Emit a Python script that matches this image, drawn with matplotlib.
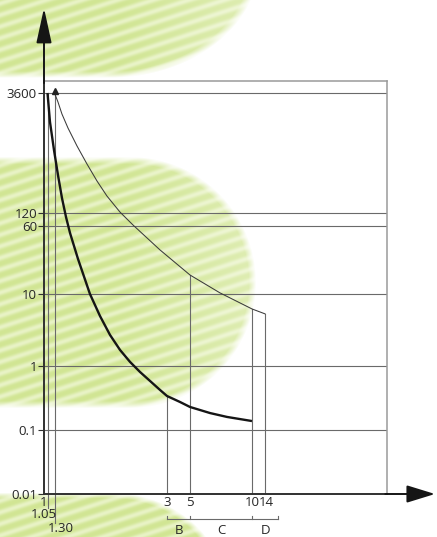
import numpy as np
import matplotlib
matplotlib.use("Agg")
import matplotlib.pyplot as plt
from matplotlib import transforms
from matplotlib.ticker import FixedLocator, FixedFormatter, NullLocator

plt.rcParams['font.family'] = ['Open Sans', 'DejaVu Sans']

# ---- data -------------------------------------------------------------
current_ticks = [1, 1.05, 1.3, 3, 5, 10, 14]
current_tick_labels = ['1', '1.05', '1.30', '3', '5', '10', '14']
time_ticks = [0.01, 0.1, 1, 10, 60, 120, 3600]
time_tick_labels = ['0.01', '0.1', '1', '10', '60', '120', '3600']

# upper limit of the tripping band (thin line), I/In vs seconds
upper_current = [1.3, 1.334, 1.374, 1.437, 1.537, 1.655, 1.783, 1.92, 2.116,
                 2.33, 2.849, 5.0, 6.99, 10.0, 14.0]
upper_time = [3600, 2789, 1985, 1335, 801, 481, 297, 194, 123,
              63.3, 31.9, 16.5, 10.3, 6.2, 5.3]

# lower limit of the tripping band (thick line)
lower_current = [1.05, 1.133, 1.28, 1.334, 1.374, 1.416, 1.459, 1.548, 1.692,
                 1.823, 1.964, 2.116, 2.279, 2.455, 2.645, 2.849, 3.0, 4.004,
                 5.0, 6.255, 7.56, 10.0]
lower_time = [3600, 1582, 715, 352, 184, 97, 49.9, 25.2, 10.0,
              4.95, 2.70, 1.67, 1.14, 0.806, 0.583, 0.422, 0.340, 0.274,
              0.229, 0.184, 0.160, 0.138]

# magnetic release ranges for curve types B, C, D
curve_types = ['B', 'C', 'D']
range_bounds = [3, 5, 10, 20]

# ---- piecewise logarithmic scales (schematic spacing) ------------------
x_scale_vals = [1, 1.05, 1.3, 3, 5, 10, 14, 20, 100]
x_scale_pos = [0, 3.5, 10.5, 123, 146, 208, 221, 234, 343]
y_scale_vals = [0.01, 0.1, 1, 10, 60, 120, 3600, 7200]
y_scale_pos = [0, 64, 128, 200, 268, 281, 401, 413]


def make_scale(vals, pos):
    lv = np.log10(np.asarray(vals, float))
    ps = np.asarray(pos, float)
    s_lo = (ps[1] - ps[0]) / (lv[1] - lv[0])
    s_hi = (ps[-1] - ps[-2]) / (lv[-1] - lv[-2])

    def fwd(v):
        v = np.clip(np.asarray(v, float), 1e-12, None)
        lg = np.log10(v)
        out = np.interp(lg, lv, ps)
        out = np.where(lg < lv[0], ps[0] + (lg - lv[0]) * s_lo, out)
        out = np.where(lg > lv[-1], ps[-1] + (lg - lv[-1]) * s_hi, out)
        return out

    def inv(p):
        p = np.asarray(p, float)
        lg = np.interp(p, ps, lv)
        lg = np.where(p < ps[0], lv[0] + (p - ps[0]) / s_lo, lg)
        lg = np.where(p > ps[-1], lv[-1] + (p - ps[-1]) / s_hi, lg)
        return 10.0 ** lg

    return fwd, inv


W, H = 437, 537
fig = plt.figure(figsize=(W / 100, H / 100), dpi=100)

# ---- striped green background shapes ----------------------------------
yy, xx = np.mgrid[0:H, 0:W].astype(float)


def stadium(cx, cy, rx, ry, soft=0.06):
    r_round = np.sqrt(((xx - cx) / rx) ** 2 + ((yy - cy) / ry) ** 2)
    r_flat = np.abs(yy - cy) / ry
    r = np.where(xx <= cx, r_flat, r_round)
    return np.clip((1.0 - r) / soft + 0.5, 0, 1)


mask = np.maximum.reduce([
    stadium(110, -40, 145, 114) * (1 - 0.3 * np.clip((xx - 120) / 140, 0, 1)),
    stadium(130, 282, 122, 122) * (1 - 0.3 * np.clip((xx - 120) / 140, 0, 1)),
    stadium(110, 592, 112, 97),
])
ang = np.deg2rad(18)
phase = (yy * np.cos(ang) + xx * np.sin(ang)) / 11.0
stripe = 0.5 + 0.5 * np.sin(2 * np.pi * phase)
stripe = stripe ** 1.5
base = np.array([0.82, 0.90, 0.58])
light = np.array([0.95, 0.975, 0.86])
amt = stripe[..., None] * 0.7
tex = base[None, None, :] * (1 - amt) + light[None, None, :] * amt
img = np.ones((H, W, 3)) * (1 - mask[..., None]) + tex * mask[..., None]

ax_bg = fig.add_axes([0, 0, 1, 1])
ax_bg.imshow(img, extent=[0, 1, 0, 1], aspect='auto', interpolation='bilinear')
ax_bg.set_axis_off()

# ---- main axes --------------------------------------------------------
left, right, top, bottom = 44, 387, 81, 494
ax = fig.add_axes([left / W, 1 - bottom / H, (right - left) / W, (bottom - top) / H])
ax.set_facecolor('none')
ax.set_xscale('function', functions=make_scale(x_scale_vals, x_scale_pos))
ax.set_yscale('function', functions=make_scale(y_scale_vals, y_scale_pos))
ax.set_xlim(x_scale_vals[0], x_scale_vals[-1])
ax.set_ylim(y_scale_vals[0], y_scale_vals[-1])

grid_col = '#6a6a6a'
text_col = '#262626'

for t in time_ticks[1:]:
    ax.axhline(t, color=grid_col, lw=0.8, zorder=2)

# vertical reference lines
ax.plot([1.05, 1.05], [time_ticks[0], 3600], color=grid_col, lw=0.8, zorder=2)
ax.plot([1.3, 1.3], [time_ticks[0], 3600], color=grid_col, lw=0.8, zorder=2)
ax.plot([3, 3], [time_ticks[0], lower_time[lower_current.index(3.0)]], color=grid_col, lw=0.8, zorder=2)
for c in (5.0, 10.0, 14.0):
    ax.plot([c, c], [time_ticks[0], upper_time[upper_current.index(c)]], color=grid_col, lw=0.8, zorder=2)

# tripping curves
ax.plot(upper_current, upper_time, color='#3a3a3a', lw=0.75, zorder=4,
        solid_joinstyle='round')
ax.plot(lower_current, lower_time, color='#151515', lw=1.7, zorder=4,
        solid_capstyle='butt', solid_joinstyle='round')
ax.plot([upper_current[0]], [upper_time[0] * 1.15], marker='^', ms=4.5, color='#222', zorder=5)

# spines: axes dark, outer frame light
for s in ('left', 'bottom'):
    ax.spines[s].set_color('#303030')
    ax.spines[s].set_linewidth(1.4)
for s in ('top', 'right'):
    ax.spines[s].set_color('#9a9a9a')
    ax.spines[s].set_linewidth(1.1)

ax.yaxis.set_major_locator(FixedLocator(time_ticks))
ax.yaxis.set_major_formatter(FixedFormatter(time_tick_labels))
ax.yaxis.set_minor_locator(NullLocator())
ax.tick_params(axis='y', length=4, width=0.8, color='#303030', pad=1,
               labelsize=9.5, labelcolor=text_col)
ax.xaxis.set_major_locator(NullLocator())
ax.xaxis.set_minor_locator(NullLocator())

# axis arrows
ax.annotate('', xy=(0, 1 + (top - 8) / (bottom - top)), xycoords='axes fraction',
            xytext=(0, 0.995), textcoords='axes fraction',
            arrowprops=dict(arrowstyle='-|>,head_length=2.15,head_width=0.47',
                            mutation_scale=10, color='#151515', lw=1.4,
                            shrinkA=0, shrinkB=0), annotation_clip=False)
ax.annotate('', xy=(1 + (435 - right) / (right - left), 0), xycoords='axes fraction',
            xytext=(0.995, 0), textcoords='axes fraction',
            arrowprops=dict(arrowstyle='-|>,head_length=1.75,head_width=0.54',
                            mutation_scale=10, color='#151515', lw=1.4,
                            shrinkA=0, shrinkB=0), annotation_clip=False)

# x tick labels below the axis
bt = transforms.blended_transform_factory(ax.transData, ax.transAxes)
span = bottom - top


def below(px):
    return -(px - bottom) / span


label_rows = {'1': (-0.5, 502), '1.05': (-4, 515), '1.30': (6, 529),
              '3': (0, 503), '5': (0, 503), '10': (0, 503), '14': (1, 503)}
for val, lab in zip(current_ticks, current_tick_labels):
    dx, py = label_rows[lab]
    ax.annotate(lab, xy=(val, below(py)), xycoords=bt, xytext=(dx, 0),
                textcoords='offset pixels', ha='center', va='center',
                fontsize=9.5, color=text_col, annotation_clip=False)

# leader lines from the 1.05 and 1.30 marks down to their labels
ax.plot([1.05, 1.05], [0, below(508)], transform=bt, color=grid_col, lw=0.8, clip_on=False)
ax.plot([1.3, 1.3], [0, below(523)], transform=bt, color=grid_col, lw=0.8, clip_on=False)

# B / C / D range bracket
fwd_x, inv_x = make_scale(x_scale_vals, x_scale_pos)
ax.plot([range_bounds[0], range_bounds[-1]], [below(519)] * 2, transform=bt,
        color=grid_col, lw=0.8, clip_on=False)
for b in range_bounds:
    ax.plot([b, b], [below(519), below(516)], transform=bt, color=grid_col,
            lw=0.8, clip_on=False)
for name, a, b in zip(curve_types, range_bounds[:-1], range_bounds[1:]):
    mid = float(inv_x((fwd_x(a) + fwd_x(b)) / 2))
    ax.text(mid, below(530), name, transform=bt, ha='center', va='center',
            fontsize=9.5, color=text_col, clip_on=False)

fig.savefig('out.png', dpi=100)
